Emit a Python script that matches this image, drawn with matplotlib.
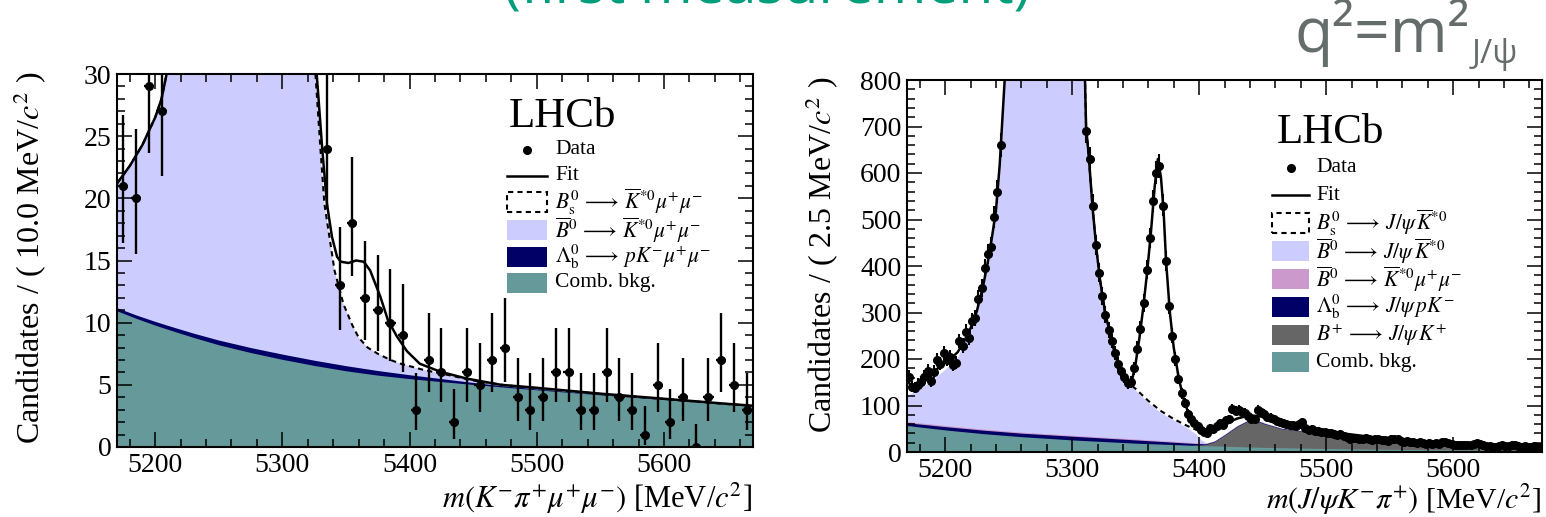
import numpy as np
import matplotlib
matplotlib.use('Agg')
import matplotlib.pyplot as plt
from matplotlib.patches import Rectangle
from matplotlib.lines import Line2D
from matplotlib.ticker import MultipleLocator

plt.rcParams['font.family'] = ['Liberation Serif', 'DejaVu Serif']
plt.rcParams['mathtext.fontset'] = 'stix'

W, H = 1546, 517

# ---------------- Left panel data (10 MeV bins) ----------------
left_counts = [21, 20, 29, 27,
               40, 60, 95, 150, 220, 290, 320, 300, 240, 160, 95, 45,
               24, 13, 18, 12, 11, 10, 9, 3, 7, 6,
               2, 6, 5, 7, 8, 4, 3, 4, 6, 6,
               3, 3, 6, 4, 3, 1, 5, 2, 4, 0,
               4, 7, 5, 3]

# left fit components (stacked tops)
l_comb_x = [5170, 5185, 5200, 5215, 5230, 5250, 5275, 5300, 5325, 5350, 5375, 5400, 5425,
            5450, 5475, 5500, 5550, 5600, 5650, 5670]
l_comb_y = [10.95, 10.35, 9.8, 9.3, 8.82, 8.22, 7.6, 7.05, 6.56, 6.13, 5.78, 5.5, 5.26,
            5.03, 4.81, 4.6, 4.2, 3.82, 3.43, 3.28]
l_lamb_x = [5170, 5185, 5200, 5215, 5230, 5250, 5275, 5300, 5325, 5350, 5375, 5400, 5425,
            5450, 5475, 5500, 5550, 5600, 5650, 5670]
l_lamb_y = [11.2, 10.62, 10.1, 9.62, 9.16, 8.6, 8.0, 7.47, 6.98, 6.54, 6.15, 5.81, 5.5,
            5.19, 4.91, 4.67, 4.24, 3.84, 3.44, 3.29]
l_b0_x = [5170, 5180, 5190, 5200, 5205, 5210, 5215, 5220, 5320, 5324, 5326, 5330, 5333, 5337,
          5341, 5348, 5355, 5360, 5367, 5375, 5385, 5393, 5411, 5430, 5450, 5475, 5500, 5550,
          5600, 5650, 5670]
l_b0_y = [21.2, 22.6, 24.3, 26.5, 28.0, 30.5, 35, 45, 45, 35, 30, 23.9, 19.6, 16.9,
          14.2, 11.5, 9.8, 8.8, 8.0, 7.5, 7.0, 6.7, 6.2, 5.8, 5.35, 4.97, 4.73, 4.27,
          3.86, 3.45, 3.3]
l_fit_x = [5170, 5180, 5190, 5200, 5205, 5210, 5215, 5220, 5320, 5325, 5327, 5331.4, 5335, 5339,
           5343, 5346, 5352, 5358, 5364, 5369, 5377, 5383, 5390, 5398, 5408, 5424, 5445, 5472,
           5500, 5550, 5600, 5650, 5670]
l_fit_y = [21.2, 22.6, 24.3, 26.5, 28.0, 30.5, 35, 45, 45, 35, 30, 23.9, 19.6, 16.9,
           15.3, 14.9, 14.8, 15.0, 14.9, 14.2, 12.1, 10.2, 8.9, 7.7, 6.7, 6.06, 5.5, 5.0,
           4.76, 4.29, 3.88, 3.47, 3.32]

# ---------------- Right panel data (2.5 MeV bins) ----------------
right_counts = [
    162, 140, 138, 145, 150, 162, 175, 152, 172, 198,
    190, 212, 198, 205, 188, 192, 238, 228, 258, 245,
    282, 288, 330, 352, 395, 425, 440, 505, 560, 660,
    850, 1000, 1250, 1550, 1900, 2300, 2700, 3100, 3400, 3600,
    3700, 3650, 3500, 3250, 2950, 2600, 2250, 1900, 1600, 1350,
    1150, 1000, 920, 880, 860, 840, 690, 630, 530, 445,
    385, 335, 295, 262, 238, 212, 190, 175, 162, 148,
    150, 180, 222, 265, 320, 392, 460, 540, 600, 615,
    530, 410, 315, 250, 200, 158, 126, 105, 82, 70,
    62, 55, 47, 42, 40, 52, 50, 55, 62, 58,
    68, 70, 92, 88, 90, 85, 84, 78, 72, 70,
    90, 85, 82, 76, 74, 70, 66, 64, 62, 60,
    57, 58, 55, 60, 65, 52, 48, 50, 46, 45,
    44, 42, 40, 41, 38, 37, 38, 34, 32, 29,
    31, 30, 28, 29, 31, 27, 26, 28, 27, 25,
    26, 24, 27, 29, 28, 24, 22, 23, 21, 22,
    20, 21, 19, 18, 19, 17, 20, 18, 21, 22,
    20, 17, 16, 15, 14, 15, 16, 14, 17, 19,
    18, 15, 13, 12, 11, 11, 13, 14, 12, 13,
    15, 14, 12, 11, 12, 10, 11, 12, 10, 11]

r_comb_x = [5170, 5200, 5230, 5260, 5300, 5350, 5400, 5450, 5500, 5550, 5600, 5670]
r_comb_y = [57, 47.5, 39.5, 33, 26, 19, 14, 10, 7.5, 5.8, 4.6, 3.6]
r_bp_x = [5395, 5405, 5412, 5420, 5430, 5438, 5445, 5452, 5465, 5480, 5500, 5530, 5560, 5600, 5640, 5670]
r_bp_y = [14.3, 16, 22, 36, 55, 66, 67, 60, 50, 45, 37.5, 29.5, 23.5, 16.5, 13, 10]
r_lamb_x = [5170, 5200, 5230, 5260, 5300, 5350, 5395, 5405, 5412, 5420, 5430, 5438, 5445, 5452,
            5465, 5480, 5500, 5530, 5560, 5600, 5640, 5670]
r_lamb_y = [63, 54.5, 47, 40.5, 34, 26, 18.5, 17.5, 23, 37, 56, 67, 68, 61,
            50.7, 45.5, 38, 29.8, 23.8, 16.7, 13.2, 10.2]
r_kmm_x = r_lamb_x
r_kmm_y = [65.5, 57, 49.3, 42.7, 36, 28, 20.5, 18.5, 23.8, 37.8, 56.8, 67.8, 68.8, 61.7,
           51.2, 46, 38.4, 30.1, 24.1, 17, 13.4, 10.4]
r_b0_x = [5170, 5180, 5190, 5200, 5210, 5215, 5220, 5225, 5230, 5235, 5240, 5243, 5246, 5248,
          5308, 5310, 5311, 5313, 5316, 5319, 5322, 5326, 5330, 5335, 5340, 5345, 5350, 5360,
          5370, 5380, 5390, 5397, 5402, 5406, 5412, 5420, 5430, 5438, 5445, 5452, 5465, 5480,
          5500, 5530, 5560, 5600, 5640, 5670]
r_b0_y = [122, 135, 155, 178, 205, 235, 265, 302, 357, 427, 517, 617, 757, 850,
          850, 820, 700, 640, 530, 440, 370, 298, 250, 198, 166, 146, 133, 106,
          84, 69, 53, 40, 25, 19.5, 24.5, 38.5, 57.5, 68.5, 69.5, 62.5, 51.8, 46.4,
          38.8, 30.4, 24.4, 17.2, 13.6, 10.6]
r_dash_x = [5300, 5308, 5310, 5311, 5313, 5316, 5319, 5322, 5326, 5330, 5335, 5340, 5345,
            5350, 5360, 5370, 5380, 5390, 5400, 5406]
r_dash_y = [850, 850, 820, 700, 640, 530, 440, 370, 298, 250, 198, 166, 147,
            136, 110, 88, 71, 57, 45, 42]
r_fit_x = [5170, 5175, 5180, 5185, 5190, 5195, 5200, 5205, 5210, 5215, 5220, 5225, 5230, 5235,
           5240, 5243, 5246, 5248, 5308, 5310, 5311, 5313, 5316, 5319, 5322, 5326, 5330, 5335,
           5340, 5344, 5347, 5350, 5353, 5356, 5359, 5362, 5365, 5367.5, 5370, 5372, 5374, 5377,
           5380, 5384, 5388, 5392, 5396, 5400, 5404, 5408, 5414, 5420, 5430, 5440, 5450, 5460,
           5475, 5490, 5510, 5540, 5570, 5600, 5640, 5670]
r_fit_y = [150, 143, 145, 155, 168, 182, 194, 202, 215, 238, 266, 303, 358, 428,
           518, 618, 758, 850, 850, 820, 700, 640, 530, 440, 370, 300, 252, 200,
           168, 150, 152, 190, 245, 310, 385, 470, 570, 630, 590, 520, 410, 300,
           225, 158, 112, 80, 62, 50, 45, 46, 52, 60, 72, 79, 76, 69,
           59, 50, 41, 31, 24, 19, 14, 11]

C_LAV = '#ccccff'
C_PINK = '#cc99cc'
C_NAVY = '#000066'
C_GREY = '#666666'
C_TEAL = '#669999'


def poisson_err(n):
    n = np.asarray(n, dtype=float)
    lo = np.where(n > 0, np.sqrt(np.clip(n - 0.25, 0, None)), 0.0)
    hi = 1.0 + np.sqrt(n + 0.75)
    return lo, hi


def fx(px):
    return px / W


def fy(py):
    return 1 - py / H


fig = plt.figure(figsize=(W / 100, H / 100), dpi=100)

axL = fig.add_axes([fx(117), fy(447), (753 - 117) / W, (447 - 74) / H])
axR = fig.add_axes([fx(907), fy(452), (1542 - 907) / W, (452 - 80) / H])

# ---- left drawing
axL.fill_between(l_b0_x, 0, l_b0_y, color=C_LAV, lw=0)
axL.fill_between(l_lamb_x, 0, l_lamb_y, color=C_NAVY, lw=0)
axL.fill_between(l_comb_x, 0, l_comb_y, color=C_TEAL, lw=0)
axL.plot(l_b0_x, l_b0_y, color='k', lw=1.5, ls=(0, (2.5, 2)))
axL.plot(l_fit_x, l_fit_y, color='k', lw=1.8)
lc = 5175 + 10 * np.arange(len(left_counts))
lo, hi = poisson_err(left_counts)
axL.errorbar(lc, left_counts, yerr=[lo, hi], xerr=4, fmt='o', ms=5.5, color='k',
             elinewidth=1.7, capsize=0)
axL.set_xlim(5170, 5670)
axL.set_ylim(0, 30)
axL.yaxis.set_major_locator(MultipleLocator(5))
axL.yaxis.set_minor_locator(MultipleLocator(1))

# ---- right drawing
axR.fill_between(r_b0_x, 0, r_b0_y, color=C_LAV, lw=0)
axR.fill_between(r_kmm_x, 0, r_kmm_y, color=C_PINK, lw=0)
axR.fill_between(r_lamb_x, 0, r_lamb_y, color=C_NAVY, lw=0)
axR.fill_between(r_bp_x, 0, r_bp_y, color=C_GREY, lw=0)
axR.fill_between(r_comb_x, 0, r_comb_y, color=C_TEAL, lw=0)
axR.plot(r_dash_x, r_dash_y, color='k', lw=1.5, ls=(0, (2.5, 2)))
axR.plot(r_fit_x, r_fit_y, color='k', lw=1.8)
rc = 5171.25 + 2.5 * np.arange(len(right_counts))
lo, hi = poisson_err(right_counts)
axR.errorbar(rc, right_counts, yerr=[lo, hi], xerr=1.25, fmt='o', ms=5.5, color='k',
             elinewidth=1.5, capsize=0)
axR.set_xlim(5170, 5670)
axR.set_ylim(0, 800)
axR.yaxis.set_major_locator(MultipleLocator(100))
axR.yaxis.set_minor_locator(MultipleLocator(20))

for ax in (axL, axR):
    ax.xaxis.set_major_locator(MultipleLocator(100))
    ax.xaxis.set_minor_locator(MultipleLocator(20))
    ax.tick_params(which='both', direction='in', top=True, right=True, width=1.1,
                   labelsize=20, colors='k')
    ax.tick_params(which='major', length=11, pad=4)
    ax.tick_params(which='minor', length=5.5)
    for s in ax.spines.values():
        s.set_linewidth(1.5)

# axis labels
fig.text(fx(30), fy(258), r'Candidates / ( 10.0 MeV/$c^{2}$ )', rotation=90,
         ha='center', va='center', fontsize=23)
fig.text(fx(822), fy(255), r'Candidates / ( 2.5 MeV/$c^{2}$ )', rotation=90,
         ha='center', va='center', fontsize=23)
fig.text(fx(752), fy(498), r'$m(K^{-}\pi^{+}\mu^{+}\mu^{-})$ [MeV/$c^{2}$]',
         ha='right', va='center', fontsize=22)
fig.text(fx(1541), fy(500), r'$m(J/\psi K^{-}\pi^{+})$ [MeV/$c^{2}$]',
         ha='right', va='center', fontsize=21.5)


# legends
def legend(lhcb_x, lhcb_base, rows, sw_x0, sw_x1, txt_x):
    fig.text(fx(lhcb_x), fy(lhcb_base), 'LHCb', ha='left', va='baseline', fontsize=31)
    for kind, style, label, yc in rows:
        if kind == 'data':
            fig.add_artist(Line2D([fx((sw_x0 + sw_x1) / 2)], [fy(yc)], marker='o', ms=5.5,
                                  color='k', transform=fig.transFigure))
        elif kind == 'line':
            fig.add_artist(Line2D([fx(sw_x0), fx(sw_x1)], [fy(yc), fy(yc)], color='k',
                                  lw=1.8, transform=fig.transFigure))
        elif kind == 'dash':
            fig.add_artist(Rectangle((fx(sw_x0), fy(yc + 10)), (sw_x1 - sw_x0) / W, 20 / H,
                                     fill=False, ec='k', lw=1.5, ls=(0, (2.5, 2)),
                                     transform=fig.transFigure))
        else:
            fig.add_artist(Rectangle((fx(sw_x0), fy(yc + 10)), (sw_x1 - sw_x0) / W, 20 / H,
                                     fc=style, ec='none', transform=fig.transFigure))
        fig.text(fx(txt_x), fy(yc), label, ha='left', va='center', fontsize=15.5)


legend(509, 127, [
    ('data', None, 'Data', 150),
    ('line', None, 'Fit', 176),
    ('dash', None, r'$B^0_{\rm s}\,\longrightarrow\,\overline{K}^{*0}\mu^{+}\mu^{-}$', 202),
    ('box', C_LAV, r'$\overline{B}^{0}\,\longrightarrow\,\overline{K}^{*0}\mu^{+}\mu^{-}$', 230),
    ('box', C_NAVY, r'$\Lambda^0_{\rm b}\,\longrightarrow\,pK^{-}\mu^{+}\mu^{-}$', 257),
    ('box', C_TEAL, 'Comb. bkg.', 283)], 507, 547, 555)

legend(1277, 143, [
    ('data', None, 'Data', 168),
    ('line', None, 'Fit', 195),
    ('dash', None, r'$B^0_{\rm s}\,\longrightarrow\,J/\psi\,\overline{K}^{*0}$', 223),
    ('box', C_LAV, r'$\overline{B}^{0}\,\longrightarrow\,J/\psi\,\overline{K}^{*0}$', 251),
    ('box', C_PINK, r'$\overline{B}^{0}\,\longrightarrow\,\overline{K}^{*0}\mu^{+}\mu^{-}$', 279),
    ('box', C_NAVY, r'$\Lambda^0_{\rm b}\,\longrightarrow\,J/\psi\,pK^{-}$', 307),
    ('box', C_GREY, r'$B^{+}\,\longrightarrow\,J/\psi\,K^{+}$', 335),
    ('box', C_TEAL, 'Comb. bkg.', 362)], 1272, 1309, 1316)

# slide texts
fig.text(fx(767), fy(4), '(first measurement)', ha='center', va='baseline', fontsize=41,
         color='#009e7a', family=['Open Sans', 'DejaVu Sans'])
qt = fig.text(fx(1295), fy(52), 'q²=m²', ha='left', va='baseline', fontsize=45,
              color='#646c6c', family=['Open Sans', 'DejaVu Sans'])
fig.canvas.draw()
bb = qt.get_window_extent(renderer=fig.canvas.get_renderer())
fig.text(bb.x1 / W + 1 / W, fy(63), 'J/ψ', ha='left', va='baseline', fontsize=24,
         color='#646c6c', family=['Open Sans', 'DejaVu Sans'])

fig.savefig('out.png', dpi=100)
